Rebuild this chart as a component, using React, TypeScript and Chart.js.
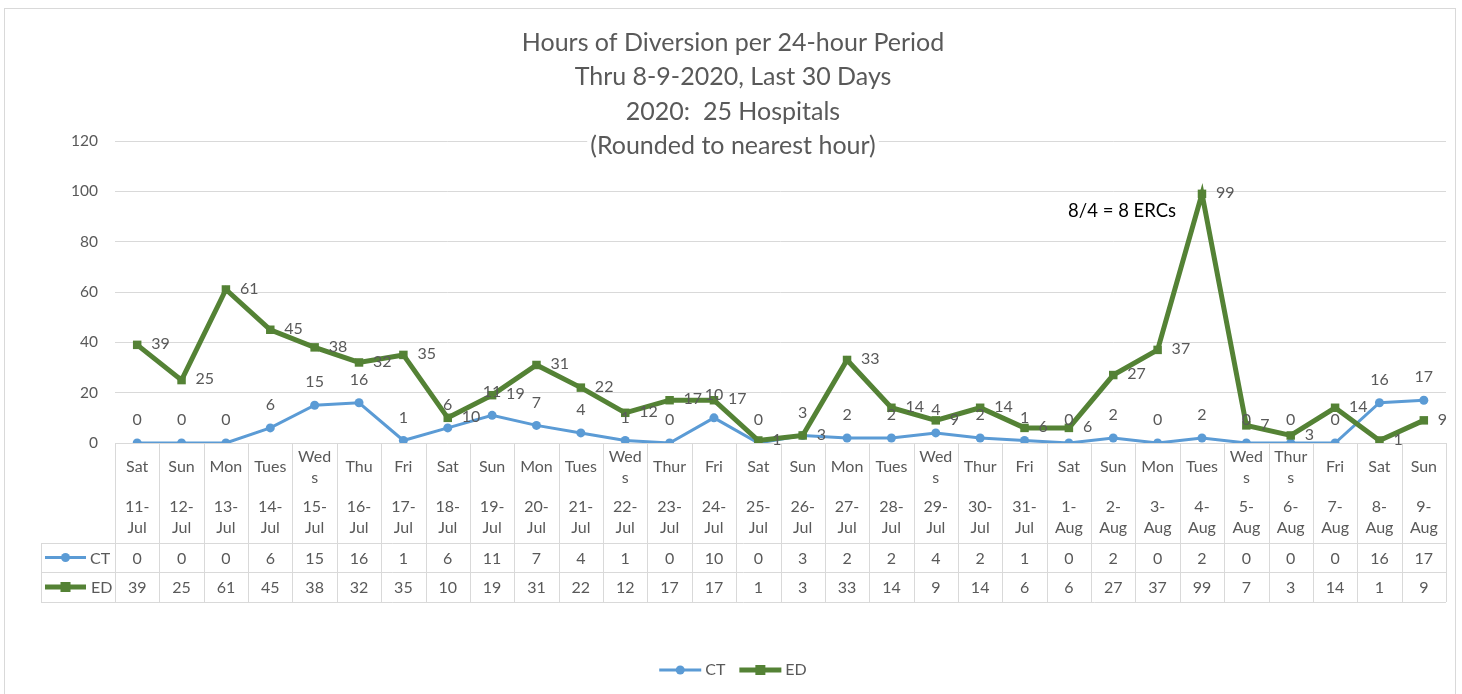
import React, { useEffect, useRef } from "react";
import { Chart, registerables } from "chart.js";
Chart.register(...registerables);

const titleLines = [
  "Hours of Diversion per 24-hour Period",
  "Thru 8-9-2020, Last 30 Days",
  "2020:  25 Hospitals",
  "(Rounded to nearest hour)",
];
const dayLabels = ["Sat","Sun","Mon","Tues","Weds","Thu","Fri","Sat","Sun","Mon","Tues","Weds","Thur","Fri","Sat","Sun","Mon","Tues","Weds","Thur","Fri","Sat","Sun","Mon","Tues","Weds","Thurs","Fri","Sat","Sun"];
const dateLabels = ["11-Jul","12-Jul","13-Jul","14-Jul","15-Jul","16-Jul","17-Jul","18-Jul","19-Jul","20-Jul","21-Jul","22-Jul","23-Jul","24-Jul","25-Jul","26-Jul","27-Jul","28-Jul","29-Jul","30-Jul","31-Jul","1-Aug","2-Aug","3-Aug","4-Aug","5-Aug","6-Aug","7-Aug","8-Aug","9-Aug"];
const ctValues = [0,0,0,6,15,16,1,6,11,7,4,1,0,10,0,3,2,2,4,2,1,0,2,0,2,0,0,0,16,17];
const edValues = [39,25,61,45,38,32,35,10,19,31,22,12,17,17,1,3,33,14,9,14,6,6,27,37,99,7,3,14,1,9];
const seriesNames = ["CT", "ED"];
const yMin = 0;
const yMax = 120;
const yStep = 20;
const annotationText = "8/4 = 8 ERCs";
const annotationAt = { category: 22.2, value: 92 };

const FONT = "Lato, 'Open Sans', sans-serif";
const GRAY = "#595959";
const GRID = "#D9D9D9";
const CT_COLOR = "#5B9BD5";
const ED_COLOR = "#548235";

function wrapText(ctx: CanvasRenderingContext2D, text: string, maxW: number): string[] {
  if (ctx.measureText(text).width <= maxW) return [text];
  let i = text.length - 1;
  while (i > 1 && ctx.measureText(text.slice(0, i)).width > maxW) i--;
  return [text.slice(0, i), text.slice(i)];
}

function drawKey(ctx: CanvasRenderingContext2D, x1: number, x2: number, y: number, series: number) {
  const color = series === 0 ? CT_COLOR : ED_COLOR;
  ctx.save();
  ctx.strokeStyle = color;
  ctx.fillStyle = color;
  ctx.lineWidth = series === 0 ? 3 : 5;
  ctx.beginPath();
  ctx.moveTo(x1, y);
  ctx.lineTo(x2, y);
  ctx.stroke();
  const cx = (x1 + x2) / 2;
  if (series === 0) {
    ctx.beginPath();
    ctx.arc(cx, y, 4.5, 0, Math.PI * 2);
    ctx.fill();
  } else {
    ctx.fillRect(cx - 5, y - 5, 10, 10);
  }
  ctx.restore();
}

const customPlugin = {
  id: "custom",
  beforeDraw(chart: any) {
    const ctx = chart.ctx as CanvasRenderingContext2D;
    ctx.save();
    ctx.fillStyle = "#fff";
    ctx.fillRect(0, 0, chart.width, chart.height);
    ctx.strokeStyle = GRID;
    ctx.lineWidth = 1;
    ctx.strokeRect(4.5, 8.5, chart.width - 11, chart.height + 5);
    ctx.restore();
  },
  afterDatasetsDraw(chart: any) {
    const ctx = chart.ctx as CanvasRenderingContext2D;
    const xs = chart.scales.x;
    const ys = chart.scales.y;
    ctx.save();
    ctx.font = `16px ${FONT}`;
    ctx.fillStyle = GRAY;
    ctx.textBaseline = "middle";
    ctValues.forEach((v, i) => {
      const px = xs.getPixelForValue(i);
      const py = ys.getPixelForValue(v);
      ctx.textAlign = "center";
      ctx.fillText(String(v), px, py - 23);
    });
    edValues.forEach((v, i) => {
      const px = xs.getPixelForValue(i);
      const py = ys.getPixelForValue(v);
      ctx.textAlign = "left";
      ctx.fillText(String(v), px + 14, py - 1);
    });
    // annotation
    ctx.font = `18.5px ${FONT}`;
    ctx.fillStyle = "#000";
    ctx.textAlign = "center";
    const ax = xs.getPixelForValue(0) + (xs.getPixelForValue(1) - xs.getPixelForValue(0)) * annotationAt.category;
    ctx.fillText(annotationText, ax, ys.getPixelForValue(annotationAt.value));
    ctx.restore();
  },
  afterDraw(chart: any) {
    const ctx = chart.ctx as CanvasRenderingContext2D;
    const xs = chart.scales.x;
    const ca = chart.chartArea;
    const n = dayLabels.length;
    const colW = (ca.right - ca.left) / n;
    const b = ca.bottom;
    ctx.save();
    // title
    ctx.font = `25px ${FONT}`;
    ctx.textAlign = "center";
    ctx.textBaseline = "middle";
    const cx = chart.width / 2 + 2;
    titleLines.forEach((t, i) => {
      const y = 43 + i * 34.3;
      const w = ctx.measureText(t).width;
      ctx.fillStyle = "#fff";
      ctx.fillRect(cx - w / 2 - 3, y - 13, w + 6, 26);
      ctx.fillStyle = GRAY;
      ctx.fillText(t, cx, y);
    });
    // table grid
    ctx.strokeStyle = GRID;
    ctx.lineWidth = 1;
    const rowTop = b + 100;
    const rowMid = b + 129;
    const rowBot = b + 159;
    const tableLeft = 41;
    ctx.beginPath();
    for (let i = 0; i <= n; i++) {
      const x = Math.round(ca.left + i * colW) + 0.5;
      ctx.moveTo(x, b);
      ctx.lineTo(x, rowBot);
    }
    [rowTop, rowMid, rowBot].forEach((y) => {
      ctx.moveTo(tableLeft, y + 0.5);
      ctx.lineTo(ca.right, y + 0.5);
    });
    ctx.moveTo(tableLeft + 0.5, rowTop);
    ctx.lineTo(tableLeft + 0.5, rowBot);
    ctx.stroke();
    // header text
    ctx.font = `16px ${FONT}`;
    ctx.fillStyle = GRAY;
    ctx.textAlign = "center";
    for (let i = 0; i < n; i++) {
      const x = xs.getPixelForValue(i);
      const dl = wrapText(ctx, dayLabels[i], 37);
      if (dl.length === 1) ctx.fillText(dl[0], x, b + 24);
      else {
        ctx.fillText(dl[0], x, b + 14);
        ctx.fillText(dl[1], x, b + 35);
      }
      const d = dateLabels[i];
      const k = d.indexOf("-");
      ctx.fillText(d.slice(0, k + 1), x, b + 64);
      ctx.fillText(d.slice(k + 1), x, b + 85);
      ctx.fillText(String(ctValues[i]), x, (rowTop + rowMid) / 2 + 1);
      ctx.fillText(String(edValues[i]), x, (rowMid + rowBot) / 2 + 1);
    }
    // row keys
    ctx.textAlign = "left";
    drawKey(ctx, 45, 86, (rowTop + rowMid) / 2, 0);
    ctx.fillText(seriesNames[0], 90, (rowTop + rowMid) / 2 + 1);
    drawKey(ctx, 45, 86, (rowMid + rowBot) / 2, 1);
    ctx.fillText(seriesNames[1], 91, (rowMid + rowBot) / 2 + 1);
    // bottom legend
    const ly = 670;
    const w0 = ctx.measureText(seriesNames[0]).width;
    const w1 = ctx.measureText(seriesNames[1]).width;
    const keyW = 42;
    const total = keyW + 4 + w0 + 14 + keyW + 4 + w1;
    let lx = chart.width / 2 + 2 - total / 2;
    drawKey(ctx, lx, lx + keyW, ly, 0);
    ctx.fillText(seriesNames[0], lx + keyW + 4, ly);
    lx += keyW + 4 + w0 + 14;
    drawKey(ctx, lx, lx + keyW, ly, 1);
    ctx.fillText(seriesNames[1], lx + keyW + 4, ly);
    ctx.restore();
  },
};

export default function App() {
  const ref = useRef<HTMLCanvasElement>(null);
  useEffect(() => {
    document.body.style.margin = "0";
    const chart = new Chart(ref.current!, {
      type: "line",
      data: {
        labels: dayLabels.map((d, i) => `${d} ${dateLabels[i]}`),
        datasets: [
          {
            label: seriesNames[0],
            data: ctValues,
            borderColor: CT_COLOR,
            backgroundColor: CT_COLOR,
            borderWidth: 3,
            pointStyle: "circle",
            pointRadius: 4.5,
            pointBorderWidth: 0,
            order: 1,
          },
          {
            label: seriesNames[1],
            data: edValues,
            borderColor: ED_COLOR,
            backgroundColor: ED_COLOR,
            borderWidth: 5,
            pointStyle: "rect",
            pointRadius: 6,
            pointBorderWidth: 0,
            order: 0,
          },
        ],
      },
      options: {
        responsive: false,
        animation: false,
        layout: { padding: { top: 141, right: 16, bottom: 251, left: 0 } },
        plugins: { legend: { display: false }, title: { display: false }, tooltip: { enabled: false } },
        scales: {
          x: {
            type: "category",
            offset: true,
            ticks: { display: false },
            grid: { display: false, drawTicks: false },
            border: { display: false },
            afterFit: (s: any) => { s.height = 0; },
          },
          y: {
            min: yMin,
            max: yMax,
            ticks: { stepSize: yStep, color: GRAY, font: { family: FONT, size: 15.5 }, padding: 17 },
            grid: { color: GRID, drawTicks: false },
            border: { display: false },
            afterFit: (s: any) => { s.width = 115; },
          },
        },
      },
      plugins: [customPlugin],
    });
    return () => chart.destroy();
  }, []);
  return (
    <div style={{ position: "relative", width: 1462, height: 694 }}>
      <canvas ref={ref} width={1462} height={694} />
    </div>
  );
}
